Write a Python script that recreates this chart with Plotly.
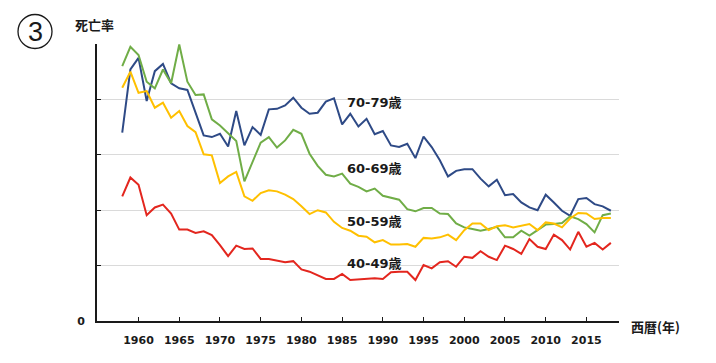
import plotly.graph_objects as go

years = list(range(1958, 2019))

rate_70_79 = [3.40, 4.54, 4.75, 3.97, 4.51, 4.64, 4.29, 4.20, 4.17, 3.74,
              3.35, 3.32, 3.38, 3.15, 3.79, 3.17, 3.50, 3.36, 3.82, 3.83,
              3.89, 4.03, 3.85, 3.74, 3.76, 3.96, 4.02, 3.55, 3.74, 3.51,
              3.65, 3.37, 3.43, 3.17, 3.14, 3.20, 2.94, 3.33, 3.14, 2.90,
              2.61, 2.71, 2.74, 2.74, 2.57, 2.43, 2.55, 2.27, 2.29, 2.14,
              2.05, 2.00, 2.28, 2.14, 1.99, 1.90, 2.20, 2.22, 2.11, 2.07,
              1.99]
rate_60_69 = [4.60, 4.95, 4.80, 4.32, 4.20, 4.54, 4.29, 4.99, 4.32, 4.08,
              4.09, 3.64, 3.53, 3.39, 3.25, 2.52, 2.88, 3.22, 3.32, 3.13,
              3.26, 3.45, 3.38, 3.02, 2.80, 2.64, 2.61, 2.66, 2.48, 2.42,
              2.34, 2.39, 2.26, 2.23, 2.19, 2.02, 1.98, 2.04, 2.04, 1.94,
              1.93, 1.76, 1.69, 1.66, 1.63, 1.66, 1.70, 1.51, 1.51, 1.63,
              1.54, 1.64, 1.74, 1.75, 1.77, 1.89, 1.84, 1.75, 1.60, 1.91,
              1.94]
rate_50_59 = [4.21, 4.50, 4.12, 4.15, 3.85, 3.94, 3.67, 3.79, 3.52, 3.41,
              3.01, 2.99, 2.49, 2.61, 2.69, 2.25, 2.17, 2.31, 2.36, 2.34,
              2.28, 2.20, 2.07, 1.93, 2.00, 1.96, 1.79, 1.68, 1.63, 1.54,
              1.52, 1.42, 1.46, 1.38, 1.38, 1.39, 1.34, 1.50, 1.49, 1.51,
              1.56, 1.46, 1.64, 1.76, 1.76, 1.64, 1.71, 1.73, 1.69, 1.72,
              1.75, 1.64, 1.78, 1.76, 1.69, 1.85, 1.95, 1.94, 1.84, 1.86,
              1.86]
rate_40_49 = [2.25, 2.59, 2.46, 1.91, 2.05, 2.10, 1.94, 1.65, 1.65, 1.59,
              1.62, 1.55, 1.37, 1.17, 1.36, 1.30, 1.31, 1.12, 1.12, 1.09,
              1.06, 1.08, 0.93, 0.89, 0.82, 0.76, 0.76, 0.85, 0.74, 0.75,
              0.76, 0.77, 0.76, 0.88, 0.89, 0.89, 0.74, 1.01, 0.95, 1.06,
              1.08, 0.98, 1.16, 1.14, 1.26, 1.16, 1.10, 1.36, 1.30, 1.21,
              1.48, 1.34, 1.30, 1.56, 1.46, 1.29, 1.61, 1.34, 1.41, 1.29,
              1.41]

series_names = ["70-79歳", "60-69歳", "50-59歳", "40-49歳"]
series_values = [rate_70_79, rate_60_69, rate_50_59, rate_40_49]
series_colors = ["#2E4A86", "#70AD47", "#FFC000", "#E3261E"]
label_y = [3.94, 2.75, 1.79, 1.04]

x_tick_vals = [1960, 1965, 1970, 1975, 1980, 1985, 1990, 1995, 2000, 2005, 2010, 2015]
y_tick_vals = [0, 1, 2, 3, 4, 5]
y_tick_text = ["0", "", "", "", "", ""]

FONT = "DejaVu Sans, Noto Sans CJK JP"
CJK = "Noto Sans CJK JP"

W, H = 716, 363
ML, MR, MT, MB = 97, 97, 44, 42
pw = W - ML - MR
ph = H - MT - MB


def px(x):
    return (x - ML) / pw


def py(y):
    return (H - MB - y) / ph


fig = go.Figure()
for name, vals, col in zip(series_names, series_values, series_colors):
    fig.add_trace(go.Scatter(x=years, y=vals, mode="lines", name=name,
                             line=dict(color=col, width=2), showlegend=False,
                             hoverinfo="skip"))

for name, ly in zip(series_names, label_y):
    fig.add_annotation(x=1985.3, y=ly, xref="x", yref="y", text="<b>%s</b>" % name,
                       showarrow=False, xanchor="left", yanchor="middle",
                       font=dict(family=FONT, size=13, color="#1a1a1a"))

fig.add_annotation(x=px(73), y=py(24), xref="paper", yref="paper", text="<b>死亡率</b>",
                   showarrow=False, xanchor="left", yanchor="middle",
                   font=dict(family=CJK, size=13, color="#1a1a1a"))
fig.add_annotation(x=px(629), y=py(326), xref="paper", yref="paper", text="<b>西暦(年)</b>",
                   showarrow=False, xanchor="left", yanchor="middle",
                   font=dict(family=CJK, size=13, color="#1a1a1a"))

# Circled number
cx, cy, r = 35, 31.5, 17
fig.add_shape(type="circle", xref="paper", yref="paper",
              x0=px(cx - r), x1=px(cx + r), y0=py(cy + r), y1=py(cy - r),
              line=dict(color="#1a1a1a", width=1.3))
fig.add_annotation(x=px(cx), y=py(cy), xref="paper", yref="paper",
                   text="3", showarrow=False, xanchor="center", yanchor="middle",
                   font=dict(family="Liberation Sans", size=27, color="#1a1a1a"))

fig.update_layout(
    width=W, height=H,
    margin=dict(l=ML, r=MR, t=MT, b=MB),
    paper_bgcolor="white", plot_bgcolor="white",
    font=dict(family=FONT, size=11, color="#1a1a1a"),
    hovermode=False,
    xaxis=dict(range=[1954.9, 2019], tickvals=x_tick_vals,
               ticktext=["<b>%d</b>" % v for v in x_tick_vals],
               showgrid=False, zeroline=False,
               showline=True, linecolor="#1a1a1a", linewidth=2,
               ticks="inside", ticklen=4, tickwidth=1, tickcolor="#1a1a1a",
               ticklabelstandoff=8, fixedrange=True),
    yaxis=dict(range=[0, 5], tickvals=y_tick_vals,
               ticktext=["<b>%s</b>" % t if t else "" for t in y_tick_text],
               showgrid=True, gridcolor="#DADADA", gridwidth=1, zeroline=False,
               showline=True, linecolor="#1a1a1a", linewidth=2,
               ticks="inside", ticklen=4, tickwidth=1, tickcolor="#1a1a1a",
               ticklabelstandoff=8, fixedrange=True),
)

fig.write_html("out.html", config={"displayModeBar": False, "staticPlot": True},
               post_script="document.body.style.margin='0';")
